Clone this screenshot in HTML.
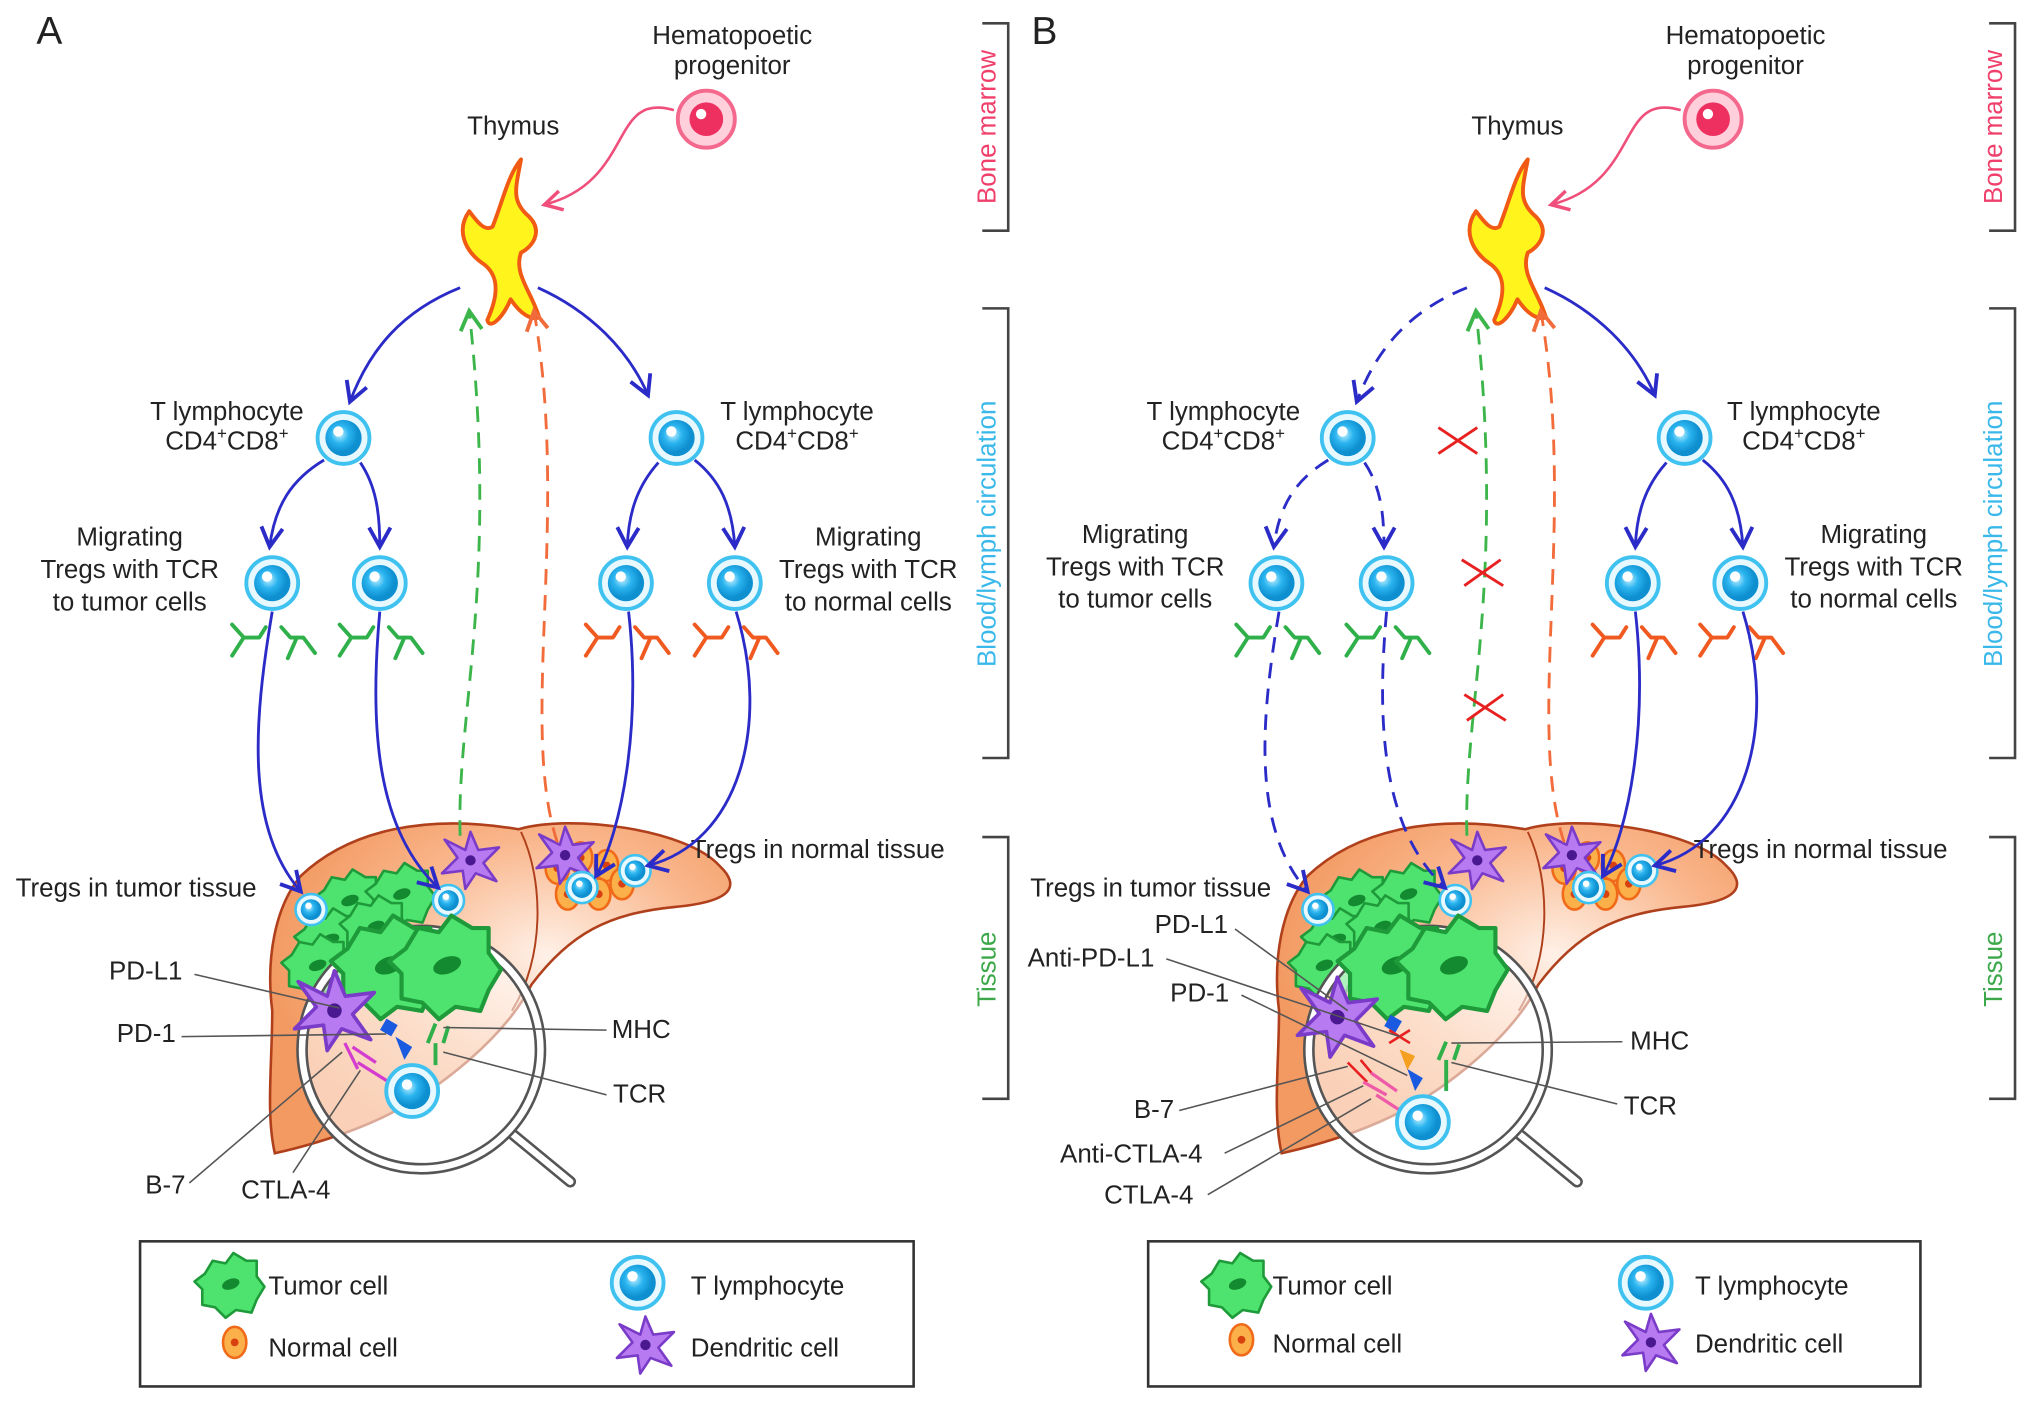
<!DOCTYPE html>
<html><head><meta charset="utf-8">
<style>
html,body{margin:0;padding:0;background:#fff;}
svg{display:block;}
text{font-family:"Liberation Sans",sans-serif;fill:#222;}
</style></head>
<body>
<svg width="2032" height="1402" viewBox="0 0 1568 1082" xmlns="http://www.w3.org/2000/svg">
<defs>
<marker id="ab" viewBox="0 0 12 12" refX="10" refY="6" markerWidth="9" markerHeight="9" orient="auto"><path d="M1,1 L10,6 L1,11" fill="none" stroke="#2b2bc8" stroke-width="1.8"/></marker>
<marker id="ag" viewBox="0 0 12 12" refX="10" refY="6" markerWidth="9" markerHeight="9" orient="auto"><path d="M1,1 L10,6 L1,11" fill="none" stroke="#3cb54a" stroke-width="1.8"/></marker>
<marker id="ao" viewBox="0 0 12 12" refX="10" refY="6" markerWidth="9" markerHeight="9" orient="auto"><path d="M1,1 L10,6 L1,11" fill="none" stroke="#f26b3a" stroke-width="1.8"/></marker>
<marker id="ap" viewBox="0 0 12 12" refX="10" refY="6" markerWidth="9" markerHeight="9" orient="auto"><path d="M1,1 L10,6 L1,11" fill="none" stroke="#ef4f7a" stroke-width="1.8"/></marker>
<radialGradient id="cellg" cx="40%" cy="40%"><stop offset="0" stop-color="#bfefff"/><stop offset="0.5" stop-color="#2ab4ef"/><stop offset="1" stop-color="#0e8fd0"/></radialGradient>
<radialGradient id="liverg" cx="60%" cy="40%" r="60%"><stop offset="0" stop-color="#fff1e8"/><stop offset="0.6" stop-color="#f9b58a"/><stop offset="1" stop-color="#f39a62"/></radialGradient>
<g id="tc"><circle r="20" fill="#e8f8ff" stroke="#3fc2f0" stroke-width="3"/><circle r="14" fill="url(#cellg)"/><circle cx="-4" cy="-5" r="4" fill="#fff"/></g>
<g id="tcs"><circle r="12" fill="#e8f8ff" stroke="#3fc2f0" stroke-width="2"/><circle r="8" fill="url(#cellg)"/><circle cx="-2" cy="-3" r="2.5" fill="#fff"/></g>
<g id="tum"><path d="M-20,-8 L-14,-18 L-4,-16 L2,-24 L12,-18 L20,-18 L20,-6 L26,2 L20,12 L16,22 L4,20 L-4,26 L-12,18 L-22,16 L-22,4 L-28,-2 Z" fill="#4ee36e" stroke="#1f9a3a" stroke-width="2" stroke-linejoin="round"/><ellipse cx="0" cy="0" rx="7" ry="4" fill="#148a30" transform="rotate(-20)"/></g>
<g id="dc"><path d="M0,-22 L6,-8 L22,-10 L10,2 L20,16 L4,10 L-4,22 L-6,8 L-22,10 L-10,-2 L-20,-16 L-4,-8 Z" fill="#b77af0" stroke="#7a3cc8" stroke-width="2" stroke-linejoin="round"/><circle r="4" fill="#4a1890"/></g>
<g id="nc"><ellipse rx="9" ry="12" fill="#fbb04a" stroke="#f06a1a" stroke-width="2"/><circle r="3" fill="#d84010"/></g>
<g id="ryg" fill="none" stroke="#2fb04a" stroke-width="3" stroke-linecap="round" stroke-linejoin="round"><path d="M-26,56 L-17,42 L-26,32 M-17,42 L-5,42 L0,34"/><path d="M12,34 L19,42 L29,42 L38,54 M24,42 L17,58"/></g>
<g id="ryo" fill="none" stroke="#f05a20" stroke-width="3" stroke-linecap="round" stroke-linejoin="round"><path d="M-26,56 L-17,42 L-26,32 M-17,42 L-5,42 L0,34"/><path d="M12,34 L19,42 L29,42 L38,54 M24,42 L17,58"/></g>
<path id="thy" d="M22,-62 C18,-40 14,-30 28,-18 C40,-6 30,6 22,10 C16,26 30,40 36,60 C30,62 22,58 14,46 C8,60 -2,70 -4,62 C6,40 4,26 -8,18 C-22,8 -28,-8 -18,-22 C-12,-14 -6,-6 0,-10 C8,-30 12,-50 22,-62 Z" fill="#fff41c" stroke="#f05a14" stroke-width="3" stroke-linejoin="round"/>
</defs>

<!-- ================= PANEL A ================= -->
<g>
<text x="28" y="34" font-size="30">A</text>
<text x="565" y="34" font-size="20" text-anchor="middle">Hematopoetic</text>
<text x="565" y="57" font-size="20" text-anchor="middle">progenitor</text>
<circle cx="545" cy="92" r="22" fill="#ffd0dc" stroke="#f3688c" stroke-width="3"/><circle cx="545" cy="92" r="13" fill="#ee3060"/><circle cx="541" cy="88" r="4" fill="#fff"/>
<path d="M520,85 C470,70 490,140 420,158" fill="none" stroke="#ef4f7a" stroke-width="2" marker-end="url(#ap)"/>
<text x="396" y="104" font-size="20" text-anchor="middle">Thymus</text>
<use href="#thy" x="380" y="185"/>
<path d="M355,222 C310,240 285,270 270,310" fill="none" stroke="#2b2bc8" stroke-width="2.2" marker-end="url(#ab)"/>
<path d="M415,222 C455,240 485,270 500,305" fill="none" stroke="#2b2bc8" stroke-width="2.2" marker-end="url(#ab)"/>
<use href="#tc" x="265" y="338"/><use href="#tc" x="522" y="338"/>
<text x="175" y="324" font-size="20" text-anchor="middle">T lymphocyte</text>
<text x="175" y="347" font-size="20" text-anchor="middle">CD4<tspan dy="-8" font-size="13">+</tspan><tspan dy="8">CD8</tspan><tspan dy="-8" font-size="13">+</tspan></text>
<text x="615" y="324" font-size="20" text-anchor="middle">T lymphocyte</text>
<text x="615" y="347" font-size="20" text-anchor="middle">CD4<tspan dy="-8" font-size="13">+</tspan><tspan dy="8">CD8</tspan><tspan dy="-8" font-size="13">+</tspan></text>
<path d="M250,355 C225,370 212,390 208,422" fill="none" stroke="#2b2bc8" stroke-width="2.2" marker-end="url(#ab)"/>
<path d="M278,357 C290,375 293,395 293,422" fill="none" stroke="#2b2bc8" stroke-width="2.2" marker-end="url(#ab)"/>
<path d="M508,357 C492,375 485,395 484,422" fill="none" stroke="#2b2bc8" stroke-width="2.2" marker-end="url(#ab)"/>
<path d="M536,355 C555,370 565,390 567,422" fill="none" stroke="#2b2bc8" stroke-width="2.2" marker-end="url(#ab)"/>
<use href="#tc" x="210" y="450"/><use href="#tc" x="293" y="450"/><use href="#tc" x="483" y="450"/><use href="#tc" x="567" y="450"/>
<use href="#ryg" x="205" y="450"/><use href="#ryg" x="288" y="450"/><use href="#ryo" x="478" y="450"/><use href="#ryo" x="562" y="450"/>
<text x="100" y="421" font-size="20" text-anchor="middle">Migrating</text>
<text x="100" y="446" font-size="20" text-anchor="middle">Tregs with TCR</text>
<text x="100" y="471" font-size="20" text-anchor="middle">to tumor cells</text>
<text x="670" y="421" font-size="20" text-anchor="middle">Migrating</text>
<text x="670" y="446" font-size="20" text-anchor="middle">Tregs with TCR</text>
<text x="670" y="471" font-size="20" text-anchor="middle">to normal cells</text>
<path d="M232,676 C270,640 330,628 400,640 C440,628 530,640 555,668 C572,684 565,696 520,700 C470,705 440,720 410,760 C390,800 340,840 300,860 C270,875 235,885 212,890 C205,860 210,820 210,780 C205,740 212,700 232,676 Z" fill="url(#liverg)" stroke="#b0401c" stroke-width="2"/>
<path d="M402,642 C420,680 420,740 395,780" fill="none" stroke="#b0401c" stroke-width="1.5"/>
<g>
<use href="#tum" x="270" y="695"/><use href="#tum" x="310" y="690"/><use href="#tum" x="255" y="725"/><use href="#tum" x="290" y="715"/><use href="#tum" x="245" y="745"/>
<use href="#nc" x="430" y="670"/><use href="#nc" x="448" y="662"/><use href="#nc" x="468" y="668"/><use href="#nc" x="438" y="690"/><use href="#nc" x="462" y="690"/><use href="#nc" x="480" y="682"/>
<use href="#dc" x="363" y="664"/><use href="#dc" x="436" y="660"/>
<use href="#tcs" x="240" y="702"/><use href="#tcs" x="346" y="695"/><use href="#tcs" x="449" y="685"/><use href="#tcs" x="490" y="672"/>
</g>
<line x1="395" y1="875" x2="440" y2="912" stroke="#555" stroke-width="9" stroke-linecap="round"/>
<line x1="395" y1="875" x2="440" y2="912" stroke="#fff" stroke-width="5" stroke-linecap="round"/>
<circle cx="325" cy="810" r="92" fill="#fff" fill-opacity="0.55" stroke="#555" stroke-width="9"/>
<circle cx="325" cy="810" r="92" fill="none" stroke="#fff" stroke-width="5"/>
<use href="#tum" x="300" y="745" transform="translate(300,745) scale(1.6) translate(-300,-745)"/>
<use href="#tum" x="345" y="745" transform="translate(345,745) scale(1.6) translate(-345,-745)"/>
<use href="#dc" x="258" y="780" transform="translate(258,780) scale(1.4) translate(-258,-780)"/>
<rect x="295" y="788" width="10" height="10" fill="#1a5ae0" transform="rotate(30 300 793)"/>
<path d="M305,800 L318,808 L312,818 Z" fill="#1a5ae0"/>
<path d="M330,805 L336,790 M342,805 L346,792 M336,805 L336,822" stroke="#2fb04a" stroke-width="3" fill="none"/>
<path d="M266,805 L276,825 M272,808 L290,820 M276,820 L300,835" stroke="#d43cd0" stroke-width="2.5" fill="none"/>
<use href="#tc" x="318" y="842"/>
<text x="12" y="692" font-size="20">Tregs in tumor tissue</text>
<text x="533" y="662" font-size="20">Tregs in normal tissue</text>
<text x="84" y="756" font-size="20">PD-L1</text>
<text x="90" y="804" font-size="20">PD-1</text>
<text x="472" y="801" font-size="20">MHC</text>
<text x="473" y="851" font-size="20">TCR</text>
<text x="112" y="921" font-size="20">B-7</text>
<text x="186" y="925" font-size="20">CTLA-4</text>
<g stroke="#555" stroke-width="1.2" fill="none">
<line x1="150" y1="752" x2="262" y2="778"/>
<line x1="140" y1="800" x2="298" y2="798"/>
<line x1="468" y1="795" x2="342" y2="793"/>
<line x1="468" y1="845" x2="342" y2="812"/>
<line x1="146" y1="913" x2="264" y2="812"/>
<line x1="226" y1="905" x2="278" y2="826"/>
</g>
<path d="M210,472 C195,560 190,640 232,688" fill="none" stroke="#2b2bc8" stroke-width="2.2" marker-end="url(#ab)"/>
<path d="M293,472 C285,560 290,640 338,685" fill="none" stroke="#2b2bc8" stroke-width="2.2" marker-end="url(#ab)"/>
<path d="M485,472 C495,560 480,640 460,676" fill="none" stroke="#2b2bc8" stroke-width="2.2" marker-end="url(#ab)"/>
<path d="M568,472 C595,560 570,650 500,668" fill="none" stroke="#2b2bc8" stroke-width="2.2" marker-end="url(#ab)"/>
<path d="M355,645 C352,550 385,450 362,240" fill="none" stroke="#3cb54a" stroke-width="2.2" stroke-dasharray="12,8" marker-end="url(#ag)"/>
<path d="M430,650 C400,560 440,400 412,240" fill="none" stroke="#f26b3a" stroke-width="2.2" stroke-dasharray="12,8" marker-end="url(#ao)"/>
<g stroke="#444" stroke-width="2" fill="none">
<path d="M758,18 L778,18 L778,178 L758,178"/>
<path d="M758,238 L778,238 L778,585 L758,585"/>
<path d="M758,646 L778,646 L778,848 L758,848"/>
</g>
<text transform="translate(768,98) rotate(-90)" font-size="20" text-anchor="middle" style="fill:#ef3f6a">Bone marrow</text>
<text transform="translate(768,412) rotate(-90)" font-size="20" text-anchor="middle" style="fill:#3ab8ea">Blood/lymph circulation</text>
<text transform="translate(768,748) rotate(-90)" font-size="20" text-anchor="middle" style="fill:#3ca84a">Tissue</text>
<rect x="108" y="958" width="597" height="112" fill="#fff" stroke="#333" stroke-width="2"/>
<use href="#tum" x="178" y="991"/><text x="207" y="999" font-size="20">Tumor cell</text>
<use href="#nc" x="181" y="1036"/><text x="207" y="1047" font-size="20">Normal cell</text>
<use href="#tc" x="492" y="990"/><text x="533" y="999" font-size="20">T lymphocyte</text>
<use href="#dc" x="498" y="1038"/><text x="533" y="1047" font-size="20">Dendritic cell</text>
</g>

<!-- ================= PANEL B ================= -->
<g>
<text x="796" y="34" font-size="30">B</text>
<text x="1347" y="34" font-size="20" text-anchor="middle">Hematopoetic</text>
<text x="1347" y="57" font-size="20" text-anchor="middle">progenitor</text>
<circle cx="1322" cy="92" r="22" fill="#ffd0dc" stroke="#f3688c" stroke-width="3"/><circle cx="1322" cy="92" r="13" fill="#ee3060"/><circle cx="1318" cy="88" r="4" fill="#fff"/>
<path d="M1297,85 C1247,70 1267,140 1197,158" fill="none" stroke="#ef4f7a" stroke-width="2" marker-end="url(#ap)"/>
<text x="1171" y="104" font-size="20" text-anchor="middle">Thymus</text>
<use href="#thy" x="1157" y="185"/>
<path d="M1132,222 C1087,240 1062,270 1047,310" fill="none" stroke="#2b2bc8" stroke-width="2.2" stroke-dasharray="12,8" marker-end="url(#ab)"/>
<path d="M1192,222 C1232,240 1262,270 1277,305" fill="none" stroke="#2b2bc8" stroke-width="2.2" marker-end="url(#ab)"/>
<use href="#tc" x="1040" y="338"/><use href="#tc" x="1300" y="338"/>
<text x="944" y="324" font-size="20" text-anchor="middle">T lymphocyte</text>
<text x="944" y="347" font-size="20" text-anchor="middle">CD4<tspan dy="-8" font-size="13">+</tspan><tspan dy="8">CD8</tspan><tspan dy="-8" font-size="13">+</tspan></text>
<text x="1392" y="324" font-size="20" text-anchor="middle">T lymphocyte</text>
<text x="1392" y="347" font-size="20" text-anchor="middle">CD4<tspan dy="-8" font-size="13">+</tspan><tspan dy="8">CD8</tspan><tspan dy="-8" font-size="13">+</tspan></text>
<path d="M1025,355 C1000,370 987,390 983,422" fill="none" stroke="#2b2bc8" stroke-width="2.2" stroke-dasharray="12,8" marker-end="url(#ab)"/>
<path d="M1053,357 C1065,375 1068,395 1068,422" fill="none" stroke="#2b2bc8" stroke-width="2.2" stroke-dasharray="12,8" marker-end="url(#ab)"/>
<path d="M1286,357 C1270,375 1263,395 1262,422" fill="none" stroke="#2b2bc8" stroke-width="2.2" marker-end="url(#ab)"/>
<path d="M1314,355 C1333,370 1343,390 1345,422" fill="none" stroke="#2b2bc8" stroke-width="2.2" marker-end="url(#ab)"/>
<use href="#tc" x="985" y="450"/><use href="#tc" x="1070" y="450"/><use href="#tc" x="1260" y="450"/><use href="#tc" x="1343" y="450"/>
<use href="#ryg" x="980" y="450"/><use href="#ryg" x="1065" y="450"/><use href="#ryo" x="1255" y="450"/><use href="#ryo" x="1338" y="450"/>
<text x="876" y="419" font-size="20" text-anchor="middle">Migrating</text>
<text x="876" y="444" font-size="20" text-anchor="middle">Tregs with TCR</text>
<text x="876" y="469" font-size="20" text-anchor="middle">to tumor cells</text>
<text x="1446" y="419" font-size="20" text-anchor="middle">Migrating</text>
<text x="1446" y="444" font-size="20" text-anchor="middle">Tregs with TCR</text>
<text x="1446" y="469" font-size="20" text-anchor="middle">to normal cells</text>
<path d="M1009,676 C1047,640 1107,628 1177,640 C1217,628 1307,640 1332,668 C1349,684 1342,696 1297,700 C1247,705 1217,720 1187,760 C1167,800 1117,840 1077,860 C1047,875 1012,885 989,890 C982,860 987,820 987,780 C982,740 989,700 1009,676 Z" fill="url(#liverg)" stroke="#b0401c" stroke-width="2"/>
<path d="M1179,642 C1197,680 1197,740 1172,780" fill="none" stroke="#b0401c" stroke-width="1.5"/>
<use href="#tum" x="1047" y="695"/><use href="#tum" x="1087" y="690"/><use href="#tum" x="1032" y="725"/><use href="#tum" x="1067" y="715"/><use href="#tum" x="1022" y="745"/>
<use href="#nc" x="1207" y="670"/><use href="#nc" x="1225" y="662"/><use href="#nc" x="1245" y="668"/><use href="#nc" x="1215" y="690"/><use href="#nc" x="1239" y="690"/><use href="#nc" x="1257" y="682"/>
<use href="#dc" x="1140" y="664"/><use href="#dc" x="1213" y="660"/>
<use href="#tcs" x="1017" y="702"/><use href="#tcs" x="1123" y="695"/><use href="#tcs" x="1226" y="685"/><use href="#tcs" x="1267" y="672"/>
<line x1="1172" y1="875" x2="1217" y2="912" stroke="#555" stroke-width="9" stroke-linecap="round"/>
<line x1="1172" y1="875" x2="1217" y2="912" stroke="#fff" stroke-width="5" stroke-linecap="round"/>
<circle cx="1102" cy="810" r="92" fill="#fff" fill-opacity="0.55" stroke="#555" stroke-width="9"/>
<circle cx="1102" cy="810" r="92" fill="none" stroke="#fff" stroke-width="5"/>
<use href="#tum" x="1077" y="745" transform="translate(1077,745) scale(1.6) translate(-1077,-745)"/>
<use href="#tum" x="1122" y="745" transform="translate(1122,745) scale(1.6) translate(-1122,-745)"/>
<use href="#dc" x="1032" y="785" transform="translate(1032,785) scale(1.4) translate(-1032,-785)"/>
<rect x="1070" y="785" width="10" height="10" fill="#1a5ae0" transform="rotate(30 1075 790)"/>
<path d="M1072,795 L1088,805 M1088,795 L1072,805" stroke="#e82020" stroke-width="2"/>
<path d="M1080,810 L1092,815 L1086,826 Z" fill="#f5a020"/>
<path d="M1086,825 L1098,832 L1092,842 Z" fill="#1a5ae0"/>
<path d="M1110,818 L1116,804 M1122,818 L1126,806 M1116,818 L1116,842" stroke="#2fb04a" stroke-width="3" fill="none"/>
<path d="M1040,820 L1055,835 M1050,818 L1060,830" stroke="#e82020" stroke-width="2"/>
<path d="M1052,835 L1070,845 M1058,828 L1078,842 M1062,845 L1082,858" stroke="#ef5aa8" stroke-width="2.5" fill="none"/>
<use href="#tc" x="1098" y="866"/>
<text x="795" y="692" font-size="20">Tregs in tumor tissue</text>
<text x="1307" y="662" font-size="20">Tregs in normal tissue</text>
<text x="891" y="720" font-size="20">PD-L1</text>
<text x="793" y="746" font-size="20">Anti-PD-L1</text>
<text x="903" y="773" font-size="20">PD-1</text>
<text x="1258" y="810" font-size="20">MHC</text>
<text x="1253" y="860" font-size="20">TCR</text>
<text x="875" y="863" font-size="20">B-7</text>
<text x="818" y="897" font-size="20">Anti-CTLA-4</text>
<text x="852" y="929" font-size="20">CTLA-4</text>
<g stroke="#555" stroke-width="1.2" fill="none">
<line x1="953" y1="717" x2="1040" y2="780"/>
<line x1="900" y1="740" x2="1080" y2="800"/>
<line x1="958" y1="768" x2="1086" y2="830"/>
<line x1="1252" y1="804" x2="1120" y2="805"/>
<line x1="1248" y1="852" x2="1120" y2="820"/>
<line x1="910" y1="857" x2="1040" y2="823"/>
<line x1="945" y1="890" x2="1052" y2="838"/>
<line x1="932" y1="922" x2="1058" y2="848"/>
</g>
<path d="M987,472 C972,560 967,640 1009,688" fill="none" stroke="#2b2bc8" stroke-width="2.2" stroke-dasharray="12,8" marker-end="url(#ab)"/>
<path d="M1070,472 C1062,560 1067,640 1115,685" fill="none" stroke="#2b2bc8" stroke-width="2.2" stroke-dasharray="12,8" marker-end="url(#ab)"/>
<path d="M1262,472 C1272,560 1257,640 1237,676" fill="none" stroke="#2b2bc8" stroke-width="2.2" marker-end="url(#ab)"/>
<path d="M1345,472 C1372,560 1347,650 1277,668" fill="none" stroke="#2b2bc8" stroke-width="2.2" marker-end="url(#ab)"/>
<path d="M1132,645 C1129,550 1162,450 1139,240" fill="none" stroke="#3cb54a" stroke-width="2.2" stroke-dasharray="12,8" marker-end="url(#ag)"/>
<path d="M1207,650 C1177,560 1217,400 1189,240" fill="none" stroke="#f26b3a" stroke-width="2.2" stroke-dasharray="12,8" marker-end="url(#ao)"/>
<g stroke="#e82020" stroke-width="2.2">
<path d="M1110,330 L1140,350 M1110,350 L1140,330"/>
<path d="M1128,432 L1160,452 M1130,452 L1158,432"/>
<path d="M1130,536 L1162,556 M1132,556 L1160,536"/>
</g>
<g stroke="#444" stroke-width="2" fill="none">
<path d="M1535,18 L1555,18 L1555,178 L1535,178"/>
<path d="M1535,238 L1555,238 L1555,585 L1535,585"/>
<path d="M1535,646 L1555,646 L1555,848 L1535,848"/>
</g>
<text transform="translate(1545,98) rotate(-90)" font-size="20" text-anchor="middle" style="fill:#ef3f6a">Bone marrow</text>
<text transform="translate(1545,412) rotate(-90)" font-size="20" text-anchor="middle" style="fill:#3ab8ea">Blood/lymph circulation</text>
<text transform="translate(1545,748) rotate(-90)" font-size="20" text-anchor="middle" style="fill:#3ca84a">Tissue</text>
<rect x="886" y="958" width="596" height="112" fill="#fff" stroke="#333" stroke-width="2"/>
<use href="#tum" x="955" y="991"/><text x="982" y="999" font-size="20">Tumor cell</text>
<use href="#nc" x="958" y="1034"/><text x="982" y="1044" font-size="20">Normal cell</text>
<use href="#tc" x="1270" y="990"/><text x="1308" y="999" font-size="20">T lymphocyte</text>
<use href="#dc" x="1274" y="1036"/><text x="1308" y="1044" font-size="20">Dendritic cell</text>
</g>
</svg>
</body></html>
